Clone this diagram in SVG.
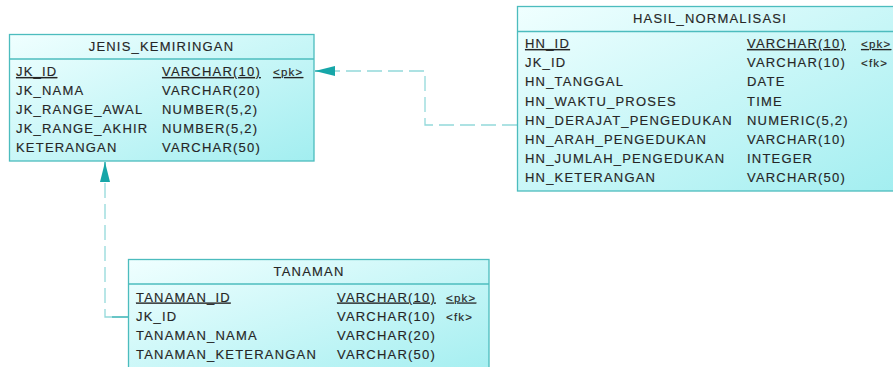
<svg xmlns="http://www.w3.org/2000/svg" width="893" height="367" viewBox="0 0 893 367">
<defs>
<linearGradient id="fill" x1="0" y1="0" x2="1" y2="1">
<stop offset="0" stop-color="#f0ffff"/>
<stop offset="1" stop-color="#a2eef0"/>
</linearGradient>
<marker id="arr" viewBox="0 0 20 10" refX="20" refY="5" markerWidth="20" markerHeight="10" markerUnits="userSpaceOnUse" orient="auto">
<path d="M0,0 L20,5 L0,10 Z" fill="#16a6a8"/>
</marker>
<style>
.box{fill:url(#fill);stroke:#4cbcbe;stroke-width:1.3}
.div{stroke:#4cbcbe;stroke-width:1.3}
text{font-family:"Liberation Sans",Arial,sans-serif;font-size:13px;letter-spacing:1.2px;fill:#262626;stroke:#262626;stroke-width:0.15}
.h{text-anchor:middle}
.k{font-size:11.5px}
.u{text-decoration:underline}
.dash{fill:none;stroke:#93d9da;stroke-width:1.3;stroke-dasharray:15 6}
.solid{stroke:#16a6a8;stroke-width:1.3;fill:none}
</style>
</defs>
<g id="connectors">
<path class="dash" d="M517,125 H425 V71 H335"/>
<line class="solid" x1="335" y1="71" x2="315" y2="71" marker-end="url(#arr)"/>
<path class="dash" d="M112,317 H105 V182"/>
<line class="solid" x1="128" y1="317" x2="112" y2="317"/>
<line class="solid" x1="105" y1="182" x2="105" y2="162" marker-end="url(#arr)"/>
</g>
<g id="jenis_kemiringan">
<rect class="box" x="9.5" y="34.5" width="304.5" height="126.5"/>
<line class="div" x1="9.5" y1="59" x2="314" y2="59"/>
<text class="h" x="161.5" y="51">JENIS_KEMIRINGAN</text>
<text x="16" y="76" class="u">JK_ID</text>
<text x="162" y="76" class="u">VARCHAR(10)</text>
<text x="273" y="76" class="k u">&lt;pk&gt;</text>
<text x="16" y="95">JK_NAMA</text>
<text x="162" y="95">VARCHAR(20)</text>
<text x="16" y="114">JK_RANGE_AWAL</text>
<text x="162" y="114">NUMBER(5,2)</text>
<text x="16" y="133">JK_RANGE_AKHIR</text>
<text x="162" y="133">NUMBER(5,2)</text>
<text x="16" y="152">KETERANGAN</text>
<text x="162" y="152">VARCHAR(50)</text>
</g>
<g id="hasil_normalisasi">
<rect class="box" x="517.5" y="6.5" width="386" height="184.5"/>
<line class="div" x1="517.5" y1="31.5" x2="903" y2="31.5"/>
<text class="h" x="710" y="22.5">HASIL_NORMALISASI</text>
<text x="525" y="48" class="u">HN_ID</text>
<text x="747" y="48" class="u">VARCHAR(10)</text>
<text x="861" y="48" class="k u">&lt;pk&gt;</text>
<text x="525" y="67.2">JK_ID</text>
<text x="747" y="67.2">VARCHAR(10)</text>
<text x="861" y="67.2" class="k">&lt;fk&gt;</text>
<text x="525" y="86.4">HN_TANGGAL</text>
<text x="747" y="86.4">DATE</text>
<text x="525" y="105.6">HN_WAKTU_PROSES</text>
<text x="747" y="105.6">TIME</text>
<text x="525" y="124.8">HN_DERAJAT_PENGEDUKAN</text>
<text x="747" y="124.8">NUMERIC(5,2)</text>
<text x="525" y="144">HN_ARAH_PENGEDUKAN</text>
<text x="747" y="144">VARCHAR(10)</text>
<text x="525" y="163.2">HN_JUMLAH_PENGEDUKAN</text>
<text x="747" y="163.2">INTEGER</text>
<text x="525" y="182.4">HN_KETERANGAN</text>
<text x="747" y="182.4">VARCHAR(50)</text>
</g>
<g id="tanaman">
<rect class="box" x="128.5" y="259.5" width="360.5" height="120"/>
<line class="div" x1="128.5" y1="284" x2="489" y2="284"/>
<text class="h" x="309" y="276">TANAMAN</text>
<text x="136" y="301.5" class="u">TANAMAN_ID</text>
<text x="337" y="301.5" class="u">VARCHAR(10)</text>
<text x="446" y="301.5" class="k u">&lt;pk&gt;</text>
<text x="136" y="320.5">JK_ID</text>
<text x="337" y="320.5">VARCHAR(10)</text>
<text x="446" y="320.5" class="k">&lt;fk&gt;</text>
<text x="136" y="339.5">TANAMAN_NAMA</text>
<text x="337" y="339.5">VARCHAR(20)</text>
<text x="136" y="358.5">TANAMAN_KETERANGAN</text>
<text x="337" y="358.5">VARCHAR(50)</text>
</g>
</svg>
